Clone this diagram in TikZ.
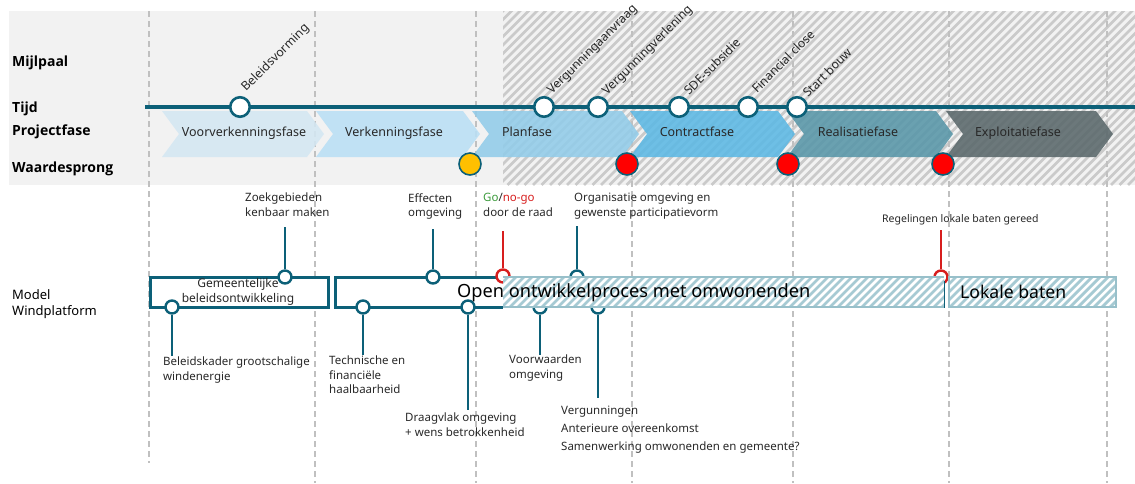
\documentclass[tikz,border=0pt]{standalone}
\usepackage{fontspec}
\setmainfont{Noto Sans}
\newfontfamily\rowfont{Open Sans}
\usetikzlibrary{calc}

\definecolor{teal1}{RGB}{12,96,120}
\definecolor{bggrey}{RGB}{242,242,242}
\definecolor{hatchgrey}{RGB}{202,202,202}
\definecolor{dashgrey}{RGB}{192,192,192}
\definecolor{chA}{RGB}{212,231,243}
\definecolor{chB}{RGB}{186,223,245}
\definecolor{chC}{RGB}{146,204,233}
\definecolor{chD}{RGB}{92,184,228}
\definecolor{chE}{RGB}{88,150,168}
\definecolor{chF}{RGB}{90,104,107}
\definecolor{barline}{RGB}{152,192,202}
\definecolor{barhatch}{RGB}{166,202,211}
\definecolor{txt}{RGB}{40,40,40}
\definecolor{gogreen}{RGB}{60,155,60}
\definecolor{nogored}{RGB}{215,30,30}
\definecolor{vred}{RGB}{255,0,0}
\definecolor{vyellow}{RGB}{255,192,0}

\begin{document}
\begin{tikzpicture}[x=1pt,y=-1pt,
  font=\fontsize{12}{15}\selectfont,
  rowlbl/.style={anchor=base west, inner sep=0pt, font=\rowfont\bfseries\fontsize{14}{17}\selectfont, text=black},
  lbl/.style={anchor=north west, inner sep=0pt, align=left, text=txt, font=\fontsize{11.5}{14.5}\selectfont},
  phase/.style={anchor=base, inner sep=0pt, text=txt, font=\fontsize{12.5}{15}\selectfont},
  mslbl/.style={anchor=base west, inner sep=0pt, rotate=45, text=txt, font=\fontsize{12.2}{14}\selectfont},
  ms/.style={circle, draw=teal1, line width=2.6pt, fill=white, minimum size=19.5pt, inner sep=0pt},
  pin/.style={circle, draw=teal1, line width=2.4pt, fill=white, minimum size=13pt, inner sep=0pt},
  redpin/.style={pin, draw=nogored},
  jump/.style={circle, draw=teal1, line width=1.6pt, minimum size=22pt, inner sep=0pt},
  stem/.style={draw=teal1, line width=2.4pt},
  redstem/.style={draw=nogored, line width=2.4pt},
  dashln/.style={draw=dashgrey, line width=1.1pt, dash pattern=on 6pt off 4pt},
  chev/.style={fill opacity=0.88, draw=none},
  bigtxt/.style={anchor=base west, inner sep=0pt, text=black, font=\fontsize{18.2}{21}\selectfont}
]
\useasboundingbox (0,0) rectangle (1135,483);

% --- header band ---
\fill[bggrey] (9,11) rectangle (1135,185);
\begin{scope}
  \clip (503,11) rectangle (1135,185);
  \foreach \i in {0,...,96} {
    \draw[hatchgrey, line width=2.6pt] ({329+\i*8.5},185) -- ++(180,-180);
  }
\end{scope}

% --- phase grid ---
\draw[dashln] (149,11) -- (149,463);
\foreach \gx in {315,476,632,793,949,1107} {
  \draw[dashln] (\gx,11) -- (\gx,483);
}

% --- row titles ---
\node[rowlbl] (rMijl) at (12,66) {Mijlpaal};
\node[rowlbl] (rTijd) at (12,112) {Tijd};
\node[rowlbl] (rFase) at (12,135) {Projectfase};
\node[rowlbl] (rWaarde) at (12,172) {Waardesprong};
\node[anchor=north west, inner sep=0pt, align=left, text=black, font=\fontsize{13}{16}\selectfont] (rModel) at (12,289) {Model\\Windplatform};

% --- project phases ---
\fill[chev, chA] (162,111) -- (307,111) -- (324,134) -- (307,157) -- (162,157) -- (179,134) -- cycle;
\fill[chev, chB] (316,111) -- (463,111) -- (480,134) -- (463,157) -- (316,157) -- (333,134) -- cycle;
\fill[chev, chC] (472,111) -- (622,111) -- (639,134) -- (622,157) -- (472,157) -- (489,134) -- cycle;
\fill[chev, chD] (630,111) -- (778,111) -- (795,134) -- (778,157) -- (630,157) -- (647,134) -- cycle;
\fill[chev, chE] (787,111) -- (936,111) -- (953,134) -- (936,157) -- (787,157) -- (804,134) -- cycle;
\fill[chev, chF] (946,111) -- (1096,111) -- (1113,134) -- (1096,157) -- (946,157) -- (963,134) -- cycle;
\node[phase] (p1) at (244,136) {Voorverkenningsfase};
\node[phase] (p2) at (394,136) {Verkenningsfase};
\node[phase] (p3) at (527,136) {Planfase};
\node[phase] (p4) at (697,136) {Contractfase};
\node[phase] (p5) at (858,136) {Realisatiefase};
\node[phase] (p6) at (1018,136) {Exploitatiefase};

% --- time axis with milestones ---
\coordinate (tStart) at (145,107);
\coordinate (tEnd) at (1135,107);
\draw[teal1, line width=4pt] (tStart) -- (tEnd);
\node[ms] (m1) at (240,107) {};
\node[ms] (m2) at (544,107) {};
\node[ms] (m3) at (598,107) {};
\node[ms] (m4) at (679,107) {};
\node[ms] (m5) at (748,107) {};
\node[ms] (m6) at (797,107) {};
\node[mslbl] (m1l) at (246,92) {Beleidsvorming};
\node[mslbl] (m2l) at (552,95) {Vergunningaanvraag};
\node[mslbl] (m3l) at (607,96) {Vergunningverlening};
\node[mslbl] (m4l) at (689,96) {SDE-subsidie};
\node[mslbl] (m5l) at (757,94) {Financial close};
\node[mslbl] (m6l) at (808,98) {Start bouw};

% --- value jumps ---
\node[jump, fill=vyellow] (w1) at (470,164) {};
\node[jump, fill=vred] (w2) at (627,164) {};
\node[jump, fill=vred] (w3) at (788,164) {};
\node[jump, fill=vred] (w4) at (943,164) {};

% --- model windplatform: process blocks ---
\draw[teal1, line width=3pt, fill=white] (150,277) rectangle (328,307);
\fill[white] (335,277) rectangle (503,307);
\draw[teal1, line width=3pt] (503,277) -- (335,277) -- (335,307) -- (503,307);
\node[inner sep=0pt, align=center, text=txt, font=\fontsize{12}{14.5}\selectfont] (b1) at (238,292) {Gemeentelijke\\beleidsontwikkeling};

% stems and their label ends
\coordinate (e1) at (285,227);
\coordinate (e2) at (172,356);
\coordinate (e3) at (433,229);
\coordinate (e4) at (363,355);
\coordinate (e5) at (468,410);
\coordinate (e6) at (503,231);
\coordinate (e7) at (577,226);
\coordinate (e8) at (540,355);
\coordinate (e9) at (598,398);
\coordinate (e10) at (941,230);

\node[pin] (c1) at (285,277) {};
\node[pin] (c2) at (172,307) {};
\node[pin] (c3) at (433,277) {};
\node[pin] (c4) at (363,307) {};
\node[pin] (c5) at (468,307) {};
\node[redpin] (c6) at (503,276) {};
\node[pin] (c7) at (577,277) {};
\node[pin] (c8) at (540,307) {};
\node[pin] (c9) at (598,307) {};
\node[redpin] (c10) at (941,277) {};

\draw[stem] (c1) -- (e1);
\draw[stem] (c2) -- (e2);
\draw[stem] (c3) -- (e3);
\draw[stem] (c4) -- (e4);
\draw[stem] (c5) -- (e5);
\draw[redstem] (c6) -- (e6);
\draw[stem] (c7) -- (e7);
\draw[stem] (c8) -- (e8);
\draw[stem] (c9) -- (e9);
\draw[redstem] (c10) -- (e10);

% hatched bars
\fill[white] (503,277) rectangle (944,307);
\fill[white] (949,277) rectangle (1116,307);
\begin{scope}
  \clip (503,277) rectangle (944,307) (949,277) rectangle (1116,307);
  \foreach \i in {0,...,82} {
    \draw[barhatch, line width=2.8pt] ({470+\i*8},307) -- ++(40,-40);
  }
\end{scope}
\draw[barline, line width=2.6pt] (503,277) -- (944,277) (503,307) -- (944,307);
\draw[barline, line width=2.6pt] (949,277) rectangle (1116,307);
\draw[teal1, line width=1pt] (944,281) -- (944,308);

\node[bigtxt] (b2) at (457,297) {Open ontwikkelproces met omwonenden};
\node[bigtxt, font=\fontsize{17.6}{20}\selectfont] (b3) at (960,298) {Lokale baten};

% --- annotations ---
\node[lbl] (l1) at (245,193) {Zoekgebieden\\kenbaar maken};
\node[lbl] (l2) at (163,357) {Beleidskader grootschalige\\windenergie};
\node[lbl] (l3) at (408,193) {Effecten\\omgeving};
\node[lbl] (l4) at (329,356) {Technische en\\financiële\\haalbaarheid};
\node[lbl] (l5) at (405,413) {Draagvlak omgeving\\+ wens betrokkenheid};
\node[lbl] (l6) at (483,193) {{\color{gogreen}Go}/{\color{nogored}no-go}\\door de raad};
\node[lbl] (l7) at (574,193) {Organisatie omgeving en\\gewenste participatievorm};
\node[lbl] (l8) at (509,355) {Voorwaarden\\omgeving};
\node[lbl, font=\fontsize{11.5}{18}\selectfont] (l9) at (561,406) {Vergunningen\\Anterieure overeenkomst\\Samenwerking omwonenden en gemeente?};
\node[lbl, font=\fontsize{10.5}{13}\selectfont] (l10) at (882,214) {Regelingen lokale baten gereed};
\end{tikzpicture}
\end{document}
